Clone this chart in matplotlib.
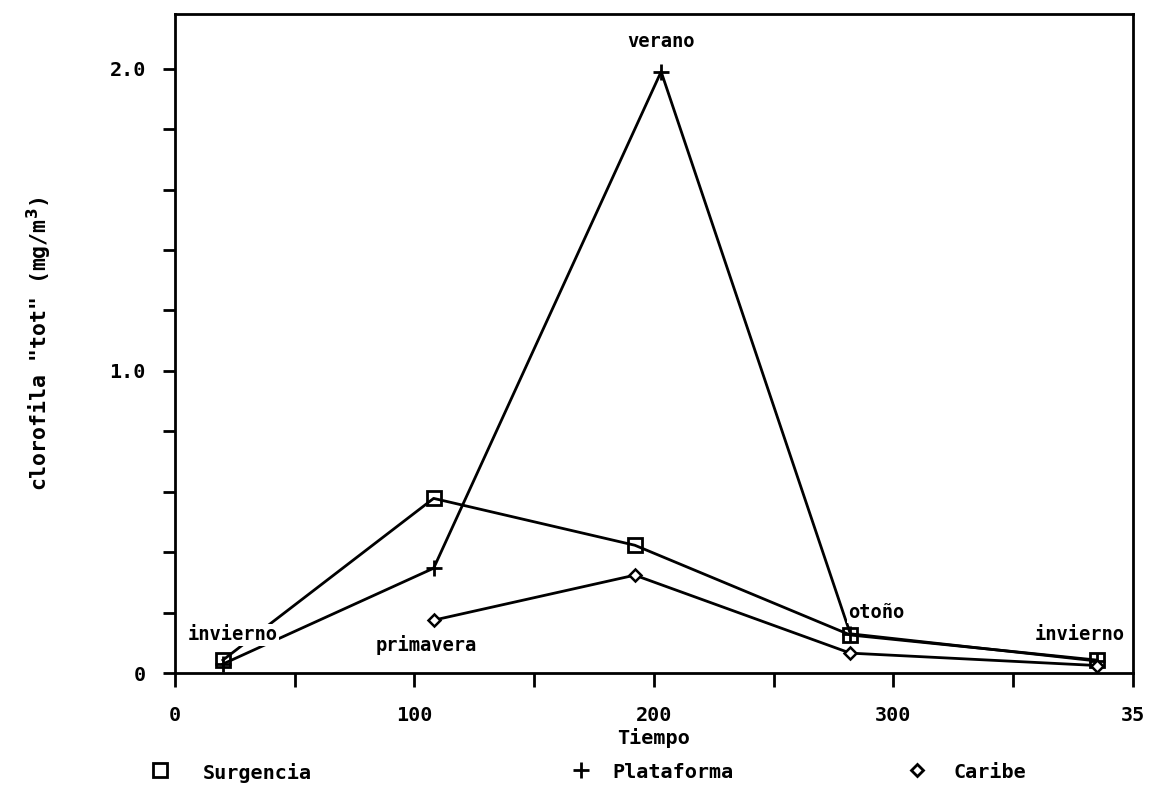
import matplotlib
matplotlib.use("Agg")
import matplotlib.pyplot as plt
from matplotlib.lines import Line2D

# Data
surg_x = [20, 108, 192, 282, 385]
surg_y = [0.043, 0.578, 0.423, 0.126, 0.043]

plat_x = [20, 108, 203, 282, 385]
plat_y = [0.03, 0.347, 1.99, 0.13, 0.04]

car_x = [108, 192, 282, 385]
car_y = [0.175, 0.324, 0.066, 0.025]

season_labels = ["invierno", "primavera", "verano", "otoño", "invierno"]
season_x = [24, 105, 203, 293, 378]
season_y = [0.126, 0.093, 2.09, 0.2, 0.126]

xtick_pos = [0, 50, 100, 150, 200, 250, 300, 350, 400]
xtick_text = ["0", "", "100", "", "200", "", "300", "", "35"]
ytick_pos = [i * 0.2 for i in range(11)]
ytick_text = ["0", "", "", "", "", "1.0", "", "", "", "", "2.0"]

FONT = "DejaVu Sans Mono"
plt.rcParams["font.family"] = FONT
plt.rcParams["font.size"] = 13
plt.rcParams["font.weight"] = "bold"
plt.rcParams["mathtext.default"] = "bf"

fig = plt.figure(figsize=(11.56, 7.90), dpi=100)
ax = fig.add_axes([0.1514, 0.148, 0.8286, 0.834])

lw = 2.0
ax.plot(surg_x, surg_y, color="black", lw=lw, marker="s", ms=10,
        mfc="none", mec="black", mew=2.0, zorder=3)
ax.plot(plat_x, plat_y, color="black", lw=lw, marker="+", ms=11,
        mew=2.0, zorder=3)
ax.plot(car_x, car_y, color="black", lw=lw, marker="D", ms=6.5,
        mfc="white", mec="black", mew=1.8, zorder=3)

# season annotations (white box hides the lines behind, like the original)
for lab, x, y in zip(season_labels, season_x, season_y):
    ax.text(x, y, lab, ha="center", va="center", fontsize=13.5,
            fontweight="bold", zorder=4,
            bbox=dict(facecolor="white", edgecolor="none", pad=1))

ax.set_xlim(0, 400)
ax.set_ylim(0, 2.18)
ax.set_xticks(xtick_pos)
ax.set_xticklabels(xtick_text)
ax.set_yticks(ytick_pos)
ax.set_yticklabels(ytick_text)

ax.tick_params(axis="x", direction="out", length=10, width=2.0, pad=14,
               labelsize=14.5)
ax.tick_params(axis="y", direction="out", length=9, width=2.0, pad=12,
               labelsize=14.5)
for s in ax.spines.values():
    s.set_linewidth(2.0)

ax.set_xlabel("Tiempo", fontsize=14.5, fontweight="bold", labelpad=2)
ax.set_ylabel('clorofila "tot" (mg/m$^3$)', fontsize=15.5,
              fontweight="bold", labelpad=40)

# legend row at the bottom
leg_y = 0.022
items = [("s", 10, "Surgencia", 0.1385, 0.175),
         ("+", 11, "Plataforma", 0.503, 0.53),
         ("D", 6.5, "Caribe", 0.793, 0.825)]
for mk, ms, name, mx, tx in items:
    fig.add_artist(Line2D([mx], [leg_y + 0.003], marker=mk, ms=ms,
                          mfc="none", mec="black", mew=2.0,
                          transform=fig.transFigure))
    fig.text(tx, leg_y, name, ha="left", va="center", fontsize=14.5,
             fontweight="bold")

fig.savefig("out.png", dpi=100)
